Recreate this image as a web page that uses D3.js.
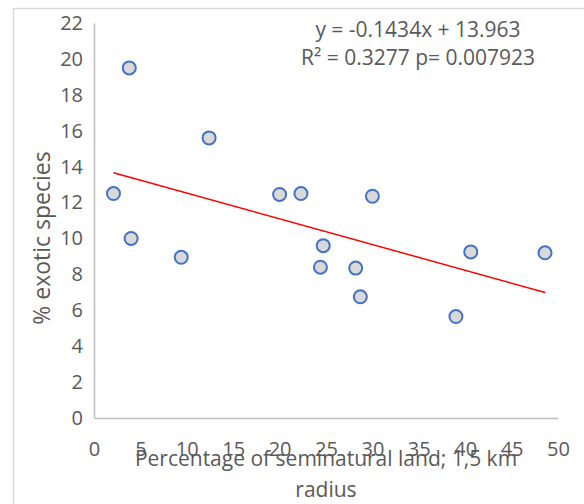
<!DOCTYPE html>
<html>
<head>
<meta charset="utf-8">
<script src="https://cdn.jsdelivr.net/npm/d3@7/dist/d3.min.js"></script>
<style>
  html, body { margin: 0; padding: 0; background: #fff; }
  svg { display: block; }
  text { font-family: "Open Sans", Lato, sans-serif; fill: #595959; }
</style>
</head>
<body>
<svg id="chart" width="584" height="504"></svg>
<script>
// Seminatural land (%) within 1.5 km radius vs. % exotic species
const seminaturalLand = [2.1, 3.8, 4.0, 9.4, 12.4, 20.0, 22.3, 30.0, 24.7, 24.4, 28.2, 28.7, 40.6, 39.0, 48.6];
const exoticSpecies   = [12.5, 19.5, 10.0, 8.95, 15.6, 12.45, 12.5, 12.35, 9.6, 8.4, 8.35, 6.75, 9.25, 5.65, 9.2];

// Linear fit reported on the chart
const slope = -0.1434;
const intercept = 13.963;
const equationLines = ["y = -0.1434x + 13.963", "R\u00B2 = 0.3277 p= 0.007923"];

const xTicks = [0, 5, 10, 15, 20, 25, 30, 35, 40, 45, 50];
const yTicks = [0, 2, 4, 6, 8, 10, 12, 14, 16, 18, 20, 22];

const xTitleLines = ["Percentage of seminatural land; 1,5 km", "radius"];
const yTitle = "% exotic species";

const svg = d3.select("#chart");

// Outer chart frame
svg.append("rect")
  .attr("x", 13.5).attr("y", 8.5)
  .attr("width", 620).attr("height", 560)
  .attr("fill", "none").attr("stroke", "#D9D9D9").attr("stroke-width", 1.5);

const plot = { left: 94, right: 558, top: 23, bottom: 418 };

const x = d3.scaleLinear().domain([0, 50]).range([plot.left, plot.right]);
const y = d3.scaleLinear().domain([0, 22]).range([plot.bottom, plot.top]);

// Axes: lines only, no tick marks
const xAxis = svg.append("g")
  .attr("transform", `translate(0,${plot.bottom})`)
  .call(d3.axisBottom(x).tickValues(xTicks).tickSize(0).tickPadding(24));
const yAxis = svg.append("g")
  .attr("transform", `translate(${plot.left},0)`)
  .call(d3.axisLeft(y).tickValues(yTicks).tickSize(0).tickPadding(11));

[xAxis, yAxis].forEach(g => {
  g.select(".domain").attr("stroke", "#BFBFBF").attr("stroke-width", 1.5);
  g.selectAll("text").style("font-size", "20px").attr("fill", "#595959")
    .style("font-family", "\"Open Sans\", Lato, sans-serif");
});

// Trend line across the observed x range
const [xMin, xMax] = d3.extent(seminaturalLand);
svg.append("line")
  .attr("x1", x(xMin)).attr("y1", y(slope * xMin + intercept))
  .attr("x2", x(xMax)).attr("y2", y(slope * xMax + intercept))
  .attr("stroke", "#FF0000").attr("stroke-width", 1.5);

// Points
svg.append("g").selectAll("circle")
  .data(seminaturalLand.map((v, i) => [v, exoticSpecies[i]]))
  .join("circle")
  .attr("cx", d => x(d[0]))
  .attr("cy", d => y(d[1]))
  .attr("r", 6.5)
  .attr("fill", "#D9D9D9")
  .attr("stroke", "#4472C4")
  .attr("stroke-width", 2);

// Fit equation and statistics
svg.append("g").selectAll("text")
  .data(equationLines)
  .join("text")
  .attr("x", 418)
  .attr("y", (d, i) => 37 + i * 28)
  .attr("text-anchor", "middle")
  .style("font-size", "21px")
  .text(d => d);

// Axis titles
svg.append("g").selectAll("text")
  .data(xTitleLines)
  .join("text")
  .attr("x", 326)
  .attr("y", (d, i) => 466 + i * 31)
  .attr("text-anchor", "middle")
  .style("font-size", "21px")
  .text(d => d);
svg.append("text")
  .attr("transform", "translate(50,238) rotate(-90)")
  .attr("text-anchor", "middle")
  .style("font-size", "23px")
  .text(yTitle);
</script>
</body>
</html>
